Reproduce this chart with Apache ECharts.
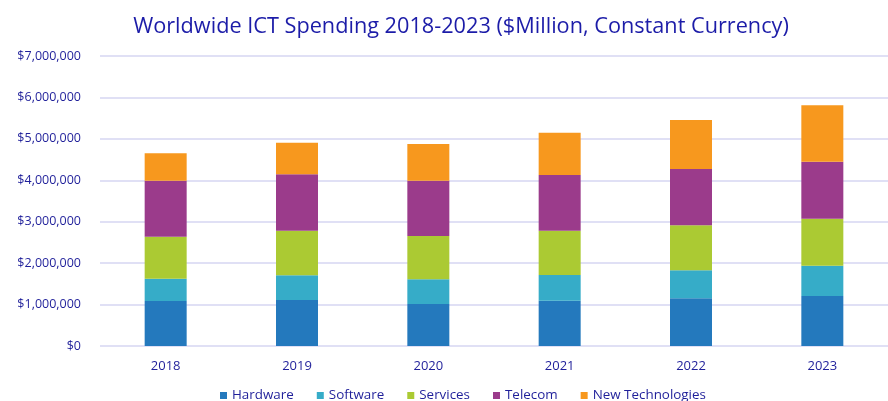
<!DOCTYPE html>
<html>
<head>
<meta charset="utf-8">
<script src="https://cdn.jsdelivr.net/npm/echarts@6/dist/echarts.min.js"></script>
<style>
html,body{margin:0;padding:0;background:#fff;}
#chart{width:888px;height:401px;}
</style>
</head>
<body>
<div id="chart"></div>
<script>
const categories = ['2018', '2019', '2020', '2021', '2022', '2023'];
const hardware = [1086000, 1110000, 1014000, 1093000, 1151000, 1207000];
const software = [538000, 596000, 596000, 621000, 676000, 731000];
const services = [1014000, 1077000, 1045000, 1069000, 1086000, 1135000];
const telecom = [1352000, 1361000, 1335000, 1344000, 1359000, 1375000];
const newTech = [661000, 763000, 886000, 1022000, 1183000, 1362000];
const yTicks = [0, 1000000, 2000000, 3000000, 4000000, 5000000, 6000000, 7000000];

const seriesDefs = [
  {name: 'Hardware', data: hardware, color: '#2479BD'},
  {name: 'Software', data: software, color: '#36ACC8'},
  {name: 'Services', data: services, color: '#ABCA33'},
  {name: 'Telecom', data: telecom, color: '#9B3B8B'},
  {name: 'New Technologies', data: newTech, color: '#F7981E'}
];

const font = '"Open Sans", "Noto Sans", sans-serif';
const navy = '#1f1f9a';
const chart = echarts.init(document.getElementById('chart'), null, {renderer: 'canvas'});
chart.setOption({
  animation: false,
  backgroundColor: '#ffffff',
  title: {
    text: 'Worldwide ICT Spending 2018-2023 ($Million, Constant Currency)',
    left: 456, top: 11, textAlign: 'center',
    textStyle: {fontFamily: font, fontWeight: 'normal', fontSize: 21.7, color: '#1c1ca8'}
  },
  legend: {
    top: 389, left: 220, padding: 0,
    icon: 'rect', itemWidth: 7, itemHeight: 7, itemGap: 23,
    textStyle: {fontFamily: font, fontSize: 13.4, color: navy, padding: [0, 0, 0, 0]},
    data: seriesDefs.map(s => s.name)
  },
  grid: {left: 100, top: 56, width: 802, height: 290, containLabel: false},
  xAxis: {
    type: 'category', data: categories,
    axisLine: {show: false}, axisTick: {show: false},
    axisLabel: {fontFamily: font, fontSize: 13, color: navy, margin: 14}
  },
  yAxis: {
    type: 'value', min: yTicks[0], max: yTicks[yTicks.length - 1], interval: 1000000,
    axisLine: {show: false}, axisTick: {show: false},
    splitLine: {lineStyle: {color: '#d6d6f2', width: 1.5}},
    axisLabel: {
      fontFamily: font, fontSize: 12.5, color: navy, margin: 19,
      formatter: v => '$' + v.toLocaleString('en-US')
    }
  },
  series: seriesDefs.map(s => ({
    name: s.name, type: 'bar', stack: 'total', data: s.data, barWidth: 42,
    itemStyle: {color: s.color}
  }))
});
</script>
</body>
</html>
